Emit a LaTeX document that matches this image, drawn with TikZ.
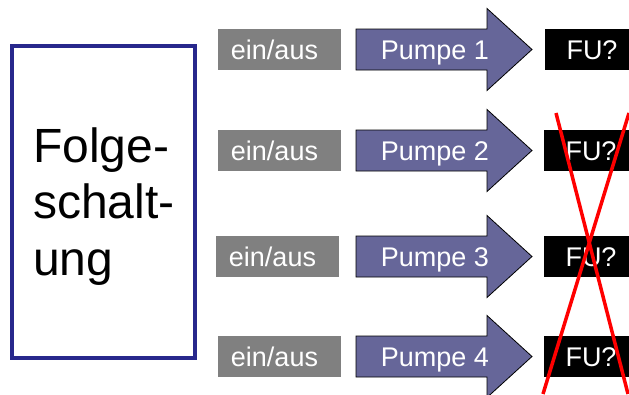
\documentclass[tikz,border=0pt]{standalone}
\usepackage{fontspec}
\setmainfont{Liberation Sans}
\definecolor{switchgray}{RGB}{128,128,128}
\definecolor{pumpblue}{RGB}{102,102,153}
\definecolor{framenavy}{RGB}{40,40,140}
\definecolor{crossred}{RGB}{255,0,0}
\begin{document}
\begin{tikzpicture}[x=1pt,y=-1pt,
  boxtext/.style={font=\fontsize{27}{32}\selectfont, text=white, inner sep=0pt,
    text height=19.5pt, text depth=0pt},
  switchbox/.style={boxtext, fill=switchgray, minimum width=123pt, minimum height=41pt},
  fubox/.style={boxtext, fill=black, minimum width=85pt, minimum height=41pt},
  pumparrow/.style={fill=pumpblue, draw=black, line width=0.8pt, line join=miter},
  pumplabel/.style={boxtext},
  bigtext/.style={font=\fontsize{48}{57}\selectfont, inner sep=0pt, anchor=base west},
  crossline/.style={draw=crossred, line width=3.5pt},
]
\useasboundingbox (0,0) rectangle (629,394);

% control block
\node[draw=framenavy, line width=3.5pt, minimum width=183pt, minimum height=312pt,
  inner sep=0pt] (ctrl) at (103.5,202) {};
\node[bigtext] (t1) at (33,162) {Folge-};
\node[bigtext] (t2) at (33,218.5) {schalt-};
\node[bigtext] (t3) at (33,275) {ung};

% one row per pump: number, top edge of shaft, switch box centre, converter box centre
\foreach \i/\top/\sx/\fx in {1/29/279.5/587, 2/130/279.5/586, 3/236/277.5/586, 4/336/279.5/586}{
  \pgfmathsetmacro{\mid}{\top+20.5}
  \node[switchbox] (e\i) at (\sx,\mid) {\hspace*{-10pt}ein/aus};
  \draw[pumparrow] (356,\top) -- (487,\top) -- (487,\top-20.5) -- (532,\mid)
     -- (487,\top+61.5) -- (487,\top+41) -- (356,\top+41) -- cycle;
  \node[pumplabel] (p\i) at (435,\mid) {Pumpe \i};
  \node[fubox] (f\i) at (\fx,\mid) {\hspace*{10pt}FU?};
}

% crossed-out converters
\coordinate (c1) at (556,113);
\coordinate (c2) at (628,394);
\coordinate (c3) at (629,113);
\coordinate (c4) at (543,394);
\draw[crossline] (c1) -- (c2);
\draw[crossline] (c3) -- (c4);
\end{tikzpicture}
\end{document}
